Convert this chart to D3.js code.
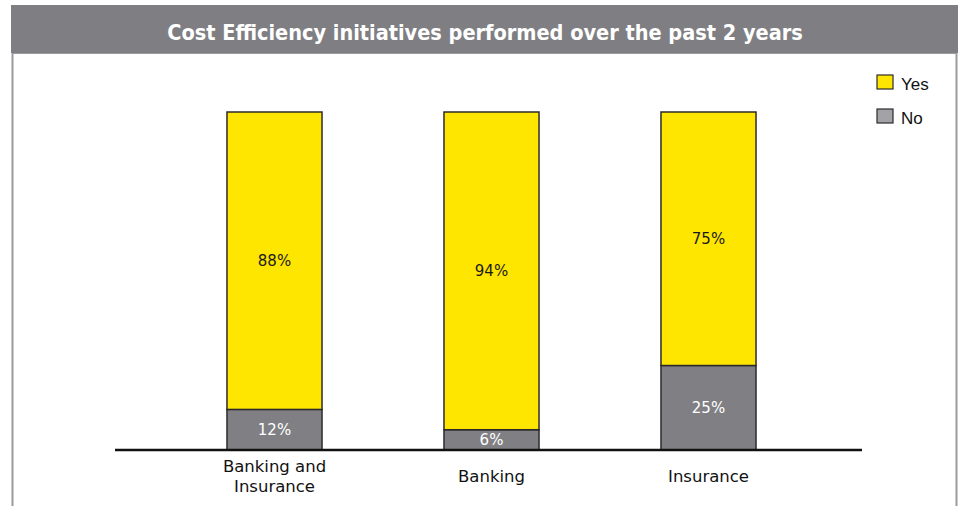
<script src="https://cdnjs.cloudflare.com/ajax/libs/d3/7.8.5/d3.min.js"></script>
<style>
    body { margin: 0; background: #fff; }
    svg { display: block; }
</style>
<svg width="961" height="506"></svg>
<script>
    // chart data
    var categories = [["Banking and", "Insurance"], ["Banking"], ["Insurance"]];
    var yesValues = [88, 94, 75];
    var noValues = [12, 6, 25];
    var seriesNames = ["Yes", "No"];
    var title = "Cost Efficiency initiatives performed over the past 2 years";

    var yellow = "#ffe600", grey = "#808084";

    var svg = d3.select("svg");

    // frame + title bar
    svg.append("rect").attr("x", 12.5).attr("y", 53).attr("width", 944).attr("height", 470)
        .attr("fill", "none").attr("stroke", "#9a9a9e").attr("stroke-width", 2);
    svg.append("rect").attr("x", 11).attr("y", 5).attr("width", 947).attr("height", 48).attr("fill", "#7f7f83");
    svg.append("text").attr("x", 485).attr("y", 40).attr("text-anchor", "middle")
        .attr("fill", "#fff").attr("font-family", "'DejaVu Sans Condensed', 'DejaVu Sans', sans-serif")
        .attr("font-weight", "bold").attr("font-size", 21.5).text(title);

    var data = categories.map(function(c, i) {
        return {key: i, label: c, Yes: yesValues[i], No: noValues[i]};
    });

    var x = d3.scaleBand().domain(d3.range(categories.length)).range([166, 817])
        .paddingInner(0.562).paddingOuter(0.281);
    var y = d3.scaleLinear().domain([0, 100]).range([450, 112]);

    var stack = d3.stack().keys(["No", "Yes"])(data);

    var layers = svg.append("g").selectAll("g").data(stack).enter().append("g")
        .attr("fill", function(d) { return d.key == "Yes" ? yellow : grey; });

    layers.selectAll("rect").data(function(d) { return d; }).enter().append("rect")
        .attr("x", function(d) { return x(d.data.key); })
        .attr("y", function(d) { return y(d[1]); })
        .attr("width", x.bandwidth())
        .attr("height", function(d) { return y(d[0]) - y(d[1]); })
        .attr("stroke", "#2b2b2b").attr("stroke-width", 1.5);

    layers.selectAll("text").data(function(d) { return d.map(function(p) { p.series = d.key; return p; }); })
        .enter().append("text")
        .attr("x", function(d) { return x(d.data.key) + x.bandwidth() / 2; })
        .attr("y", function(d) { return (y(d[0]) + y(d[1])) / 2; })
        .attr("dy", "0.35em")
        .attr("text-anchor", "middle")
        .attr("font-family", "'DejaVu Sans', sans-serif").attr("font-size", 15)
        .attr("fill", function(d) { return d.series == "Yes" ? "#1a1a1a" : "#fff"; })
        .text(function(d) { return (d[1] - d[0]) + "%"; });

    // axis baseline
    svg.append("line").attr("x1", 115).attr("x2", 862).attr("y1", 450).attr("y2", 450)
        .attr("stroke", "#111").attr("stroke-width", 2.5);

    // category labels
    var cat = svg.append("g").selectAll("text").data(data).enter().append("text")
        .attr("text-anchor", "middle")
        .attr("font-family", "'DejaVu Sans', sans-serif").attr("font-size", 16.5).attr("fill", "#111")
        .attr("transform", function(d) {
            var top = d.label.length > 1 ? 472 : 482;
            return "translate(" + (x(d.key) + x.bandwidth() / 2) + "," + top + ")";
        });
    cat.selectAll("tspan").data(function(d) { return d.label; }).enter().append("tspan")
        .attr("x", 0).attr("dy", function(d, i) { return i ? 20 : 0; })
        .text(function(d) { return d; });

    // legend
    var legend = svg.append("g").selectAll("g").data(seriesNames).enter().append("g")
        .attr("transform", function(d, i) { return "translate(877," + (75 + i * 34) + ")"; });
    legend.append("rect").attr("width", 16).attr("height", 14)
        .attr("fill", function(d) { return d == "Yes" ? yellow : "#a3a3a7"; })
        .attr("stroke", "#2b2b2b").attr("stroke-width", 1.2);
    legend.append("text").attr("x", 24).attr("y", 9).attr("dy", "0.35em")
        .attr("font-family", "'Liberation Sans', sans-serif").attr("font-size", 17).attr("fill", "#111")
        .text(function(d) { return d; });
</script>
